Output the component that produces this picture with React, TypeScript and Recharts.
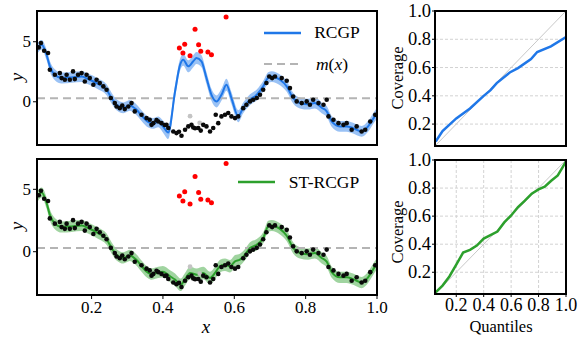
import React from "react"
import { CartesianGrid, ComposedChart, Line, Area, Scatter, ReferenceLine, XAxis, YAxis } from "recharts"

// observed points (black)
const obsX = [0.052, 0.058, 0.067, 0.078, 0.083, 0.097, 0.111, 0.116, 0.125, 0.13, 0.139, 0.148, 0.153, 0.162, 0.172, 0.181, 0.186, 0.195, 0.205, 0.214, 0.223, 0.233, 0.242, 0.254, 0.265, 0.27, 0.279, 0.286, 0.293, 0.303, 0.312, 0.321, 0.34, 0.354, 0.363, 0.368, 0.373, 0.382, 0.387, 0.396, 0.405, 0.41, 0.415, 0.429, 0.438, 0.445, 0.452, 0.462, 0.471, 0.48, 0.485, 0.49, 0.499, 0.506, 0.513, 0.522, 0.532, 0.541, 0.548, 0.555, 0.564, 0.574, 0.583, 0.592, 0.602, 0.611, 0.625, 0.634, 0.644, 0.653, 0.663, 0.672, 0.681, 0.69, 0.698, 0.706, 0.714, 0.733, 0.747, 0.756, 0.765, 0.775, 0.789, 0.803, 0.812, 0.821, 0.836, 0.85, 0.859, 0.864, 0.878, 0.892, 0.906, 0.915, 0.929, 0.943, 0.957, 0.967, 0.981, 0.995]
const obsY = [4.53, 4.89, 4.25, 4.06, 2.67, 2.25, 2.39, 1.97, 1.83, 2.25, 1.83, 2.53, 1.89, 2.25, 2.39, 1.69, 2.25, 1.97, 1.42, 1.83, 1.56, 1.28, 1.0, 0.31, -0.11, -0.39, -0.53, -0.31, -0.61, -0.39, -0.11, -0.8, -1.08, -1.36, -1.5, -1.92, -1.78, -1.53, -1.64, -1.78, -1.94, -1.92, -2.19, -2.47, -2.61, -2.5, -2.83, -2.33, -2.05, -1.92, -2.14, -2.2, -2.19, -2.4, -1.92, -2.05, -2.47, -2.19, -1.08, -1.78, -1.22, -1.08, -0.94, -1.22, -1.36, -1.22, -0.53, -0.25, 0.03, 0.17, 0.31, 0.58, 1.0, 1.56, 2.11, 1.97, 2.11, 1.97, 1.75, 1.14, 0.44, 0.03, -0.11, 0.03, -0.25, 0.17, -0.11, -0.25, 0.17, -1.22, -1.5, -1.78, -1.92, -1.78, -2.33, -2.05, -2.47, -2.33, -1.64, -1.08]

// outliers (red) and masked points (grey)
const outX = [0.446, 0.461, 0.456, 0.476, 0.49, 0.5, 0.506, 0.526, 0.536, 0.577]
const outY = [4.47, 4.8, 4.06, 3.83, 6.03, 4.75, 4.2, 4.14, 3.92, 7.06]
const greyX = [0.476, 0.503]
const greyY = [-1.2, -1.75]

// RCGP posterior mean and half band
const rcgpX = [0.047, 0.06, 0.074, 0.083, 0.097, 0.116, 0.144, 0.172, 0.19, 0.219, 0.242, 0.256, 0.27, 0.289, 0.307, 0.326, 0.34, 0.359, 0.373, 0.387, 0.4, 0.415, 0.434, 0.448, 0.457, 0.471, 0.485, 0.494, 0.508, 0.522, 0.536, 0.55, 0.564, 0.578, 0.592, 0.611, 0.625, 0.644, 0.663, 0.681, 0.695, 0.705, 0.728, 0.747, 0.765, 0.784, 0.807, 0.826, 0.845, 0.859, 0.873, 0.896, 0.915, 0.933, 0.957, 0.975, 0.994, 1.0]
const rcgpMean = [4.4, 4.75, 3.9, 2.95, 2.25, 1.98, 2.03, 2.1, 1.9, 1.47, 1.0, 0.3, -0.25, -0.5, -0.3, -0.67, -1.15, -1.7, -1.8, -1.67, -2.05, -2.55, 0.86, 3.08, 3.5, 2.95, 3.37, 3.64, 3.37, 1.98, 0.58, 0.03, 0.58, 1.42, 0.31, -1.2, -0.5, 0.17, 0.58, 1.28, 2.0, 2.1, 1.83, 1.28, 0.3, -0.1, -0.2, -0.1, -0.5, -0.8, -1.63, -2.05, -2.05, -2.2, -2.47, -2.05, -1.2, -0.95]
const rcgpBand = [0.45, 0.4, 0.45, 0.45, 0.45, 0.45, 0.45, 0.45, 0.45, 0.45, 0.45, 0.45, 0.45, 0.45, 0.45, 0.45, 0.45, 0.45, 0.45, 0.45, 0.5, 0.55, 0.55, 0.5, 0.5, 0.5, 0.5, 0.5, 0.5, 0.5, 0.5, 0.5, 0.5, 0.5, 0.5, 0.5, 0.45, 0.45, 0.45, 0.45, 0.45, 0.45, 0.45, 0.45, 0.45, 0.45, 0.45, 0.45, 0.45, 0.45, 0.45, 0.45, 0.45, 0.45, 0.45, 0.45, 0.45, 0.45]

// ST-RCGP posterior mean and half band
const stX = [0.047, 0.06, 0.074, 0.083, 0.097, 0.116, 0.144, 0.172, 0.19, 0.219, 0.242, 0.256, 0.27, 0.289, 0.307, 0.326, 0.34, 0.359, 0.368, 0.382, 0.4, 0.42, 0.434, 0.45, 0.461, 0.476, 0.494, 0.513, 0.532, 0.546, 0.56, 0.574, 0.588, 0.602, 0.616, 0.63, 0.644, 0.663, 0.681, 0.695, 0.705, 0.728, 0.747, 0.765, 0.784, 0.807, 0.826, 0.845, 0.859, 0.873, 0.896, 0.915, 0.933, 0.957, 0.975, 0.994, 1.0]
const stMean = [4.4, 4.75, 3.9, 2.95, 2.25, 1.98, 2.03, 2.1, 1.9, 1.47, 1.0, 0.3, -0.25, -0.5, -0.3, -0.67, -1.15, -1.7, -1.8, -1.7, -1.6, -1.97, -2.24, -2.65, -2.24, -1.7, -1.84, -1.7, -2.1, -1.7, -1.15, -1.04, -1.17, -0.77, -0.64, -0.24, 0.3, 0.56, 1.1, 2.03, 2.1, 1.83, 1.28, 0.3, -0.1, -0.2, -0.1, -0.5, -0.8, -1.63, -2.05, -2.05, -2.2, -2.47, -2.05, -1.2, -0.95]
const stBand = [0.45, 0.4, 0.45, 0.45, 0.45, 0.45, 0.45, 0.45, 0.45, 0.45, 0.45, 0.45, 0.45, 0.45, 0.45, 0.45, 0.45, 0.45, 0.45, 0.45, 0.45, 0.48, 0.5, 0.5, 0.5, 0.5, 0.5, 0.5, 0.5, 0.5, 0.5, 0.5, 0.5, 0.5, 0.48, 0.45, 0.45, 0.45, 0.45, 0.45, 0.45, 0.45, 0.45, 0.45, 0.45, 0.45, 0.45, 0.45, 0.45, 0.45, 0.45, 0.45, 0.45, 0.45, 0.45, 0.45, 0.45]

const priorMean = 0.3

// coverage curves
const rcgpQ = [0.05, 0.1, 0.2, 0.3, 0.4, 0.45, 0.495, 0.59, 0.65, 0.745, 0.79, 0.89, 1.0]
const rcgpCov = [0.077, 0.15, 0.24, 0.31, 0.4, 0.44, 0.49, 0.565, 0.596, 0.66, 0.71, 0.75, 0.815]
const stQ = [0.05, 0.1, 0.15, 0.2, 0.25, 0.3, 0.35, 0.4, 0.5, 0.55, 0.6, 0.65, 0.7, 0.75, 0.8, 0.845, 0.89, 0.94, 0.976, 1.0]
const stCov = [0.057, 0.105, 0.17, 0.255, 0.34, 0.36, 0.39, 0.44, 0.49, 0.555, 0.605, 0.665, 0.71, 0.76, 0.79, 0.81, 0.85, 0.89, 0.95, 0.99]

const xTicks = [0.2, 0.4, 0.6, 0.8, 1.0]
const covTicks = [0.2, 0.4, 0.6, 0.8, 1.0]

const serif = "'Liberation Serif', 'Times New Roman', Tinos, serif"
const BLUE = "#1f77e8"
const GREEN = "#2ca02c"

const toPts = (xs: number[], ys: number[]) => xs.map((x, i) => ({ x, y: ys[i] }))
const toFit = (xs: number[], m: number[], w: number[]) =>
  xs.map((x, i) => ({ x, y: m[i], band: [m[i] - w[i], m[i] + w[i]] }))

const obs = toPts(obsX, obsY)
const outliers = toPts(outX, outY)
const greys = toPts(greyX, greyY)

const dot = (fill: string, r: number) => (p: any) => <circle cx={p.cx} cy={p.cy} r={r} fill={fill} />

const fmt = (v: number) => (Number.isInteger(v) && v !== 1 ? String(v) : v.toFixed(1))

const SerifTick = (props: any) => {
  const { x, y, payload, textAnchor, orientation, size = 17, drop = 0.72 } = props
  const dy = orientation === "bottom" ? size * drop : size * 0.33
  return (
    <text x={x} y={y} dy={dy} textAnchor={textAnchor} fontFamily={serif} fontSize={size} fill="#000">
      {fmt(payload.value)}
    </text>
  )
}

const Frame = ({ left, top, w, h }: { left: number; top: number; w: number; h: number }) => (
  <div style={{ position: "absolute", left: left - 1, top: top - 1, width: w + 2, height: h + 2, border: "2px solid #000", boxSizing: "border-box", pointerEvents: "none" }} />
)

const Txt = ({ x, y, children, rotate, italic, size = 16.5 }: any) => (
  <div style={{ position: "absolute", left: x, top: y, transform: `translate(-50%, -50%)${rotate ? " rotate(-90deg)" : ""}`, fontFamily: serif, fontSize: size, fontStyle: italic ? "italic" : "normal", whiteSpace: "nowrap", lineHeight: 1 }}>
    {children}
  </div>
)

const FitPanel = ({ top, plotTop, plotH, yDomain, fit, color, showLabels }: any) => {
  const axisH = showLabels ? 26 : 5
  const height = plotTop + plotH + axisH
  return (
    <div style={{ position: "absolute", left: 0, top }}>
      <ComposedChart width={395} height={height} margin={{ top: plotTop, right: 18, bottom: 0, left: 0 }}>
        <XAxis type="number" dataKey="x" domain={[0.047, 1]} allowDataOverflow ticks={xTicks} interval={0} tickSize={4} tickMargin={2}
          axisLine={false} tickLine={{ stroke: "#000" }} height={axisH}
          tick={showLabels ? <SerifTick size={17} /> : false} />
        <YAxis type="number" domain={yDomain} allowDataOverflow ticks={[0, 5]} interval={0} width={37} tickSize={4} tickMargin={2}
          axisLine={false} tickLine={{ stroke: "#000" }} tick={<SerifTick size={17} />} />
        <ReferenceLine y={priorMean} stroke="#b4b4b4" strokeWidth={2} strokeDasharray="8 5" />
        <Area data={fit} dataKey="band" type="monotone" stroke="none" fill={color} fillOpacity={0.45} isAnimationActive={false} />
        <Line data={fit} dataKey="y" type="monotone" stroke={color} strokeWidth={2} dot={false} isAnimationActive={false} />
        <Scatter data={greys} dataKey="y" shape={dot("#c4c4c4", 2.4)} isAnimationActive={false} />
        <Scatter data={obs} dataKey="y" shape={dot("#0a0a0a", 2.3)} isAnimationActive={false} />
        <Scatter data={outliers} dataKey="y" shape={dot("#ff0000", 2.5)} isAnimationActive={false} />
      </ComposedChart>
    </div>
  )
}

const CovPanel = ({ top, plotTop, plotH, q, cov, color, showLabels }: any) => {
  const axisH = showLabels ? 22 : 5
  const height = plotTop + plotH + axisH
  const data = q.map((v: number, i: number) => ({ x: v, y: cov[i] }))
  const diag = [{ x: 0.045, y: 0.045 }, { x: 1, y: 1 }]
  return (
    <div style={{ position: "absolute", left: 390, top }}>
      <ComposedChart width={192} height={height} margin={{ top: plotTop, right: 16, bottom: 0, left: 0 }}>
        <CartesianGrid stroke="#d2d2d2" strokeDasharray="3 2" />
        <XAxis type="number" dataKey="x" domain={[0.045, 1]} allowDataOverflow ticks={covTicks} interval={0} tickSize={3} tickMargin={3}
          axisLine={false} tickLine={{ stroke: "#000" }} height={axisH}
          tick={showLabels ? <SerifTick size={18} drop={0.6} /> : false} />
        <YAxis type="number" domain={[0.045, 1]} allowDataOverflow ticks={covTicks} interval={0} width={45} tickSize={3} tickMargin={1}
          axisLine={false} tickLine={{ stroke: "#000" }} tick={<SerifTick size={18.5} />} />
        <Line data={diag} dataKey="y" type="linear" stroke="#c8c8c8" strokeWidth={1} dot={false} isAnimationActive={false} />
        <Line data={data} dataKey="y" type="linear" stroke={color} strokeWidth={2.5} dot={false} isAnimationActive={false} />
      </ComposedChart>
    </div>
  )
}

const LegendLine = ({ x, y, color, dashed }: any) => (
  <svg style={{ position: "absolute", left: x, top: y - 3 }} width={38} height={6}>
    <line x1={0} y1={3} x2={37} y2={3} stroke={color} strokeWidth={dashed ? 2 : 2.5} strokeDasharray={dashed ? "8 5" : undefined} />
  </svg>
)

export default function App() {
  return (
    <div style={{ position: "absolute", left: 0, top: 0, width: 582, height: 339, background: "#fff", overflow: "hidden", fontFamily: serif }}>
      <FitPanel top={0} plotTop={11} plotH={134} yDomain={[-3.6, 7.56]} fit={toFit(rcgpX, rcgpMean, rcgpBand)} color={BLUE} showLabels={false} />
      <FitPanel top={0} plotTop={159} plotH={136} yDomain={[-3.47, 7.43]} fit={toFit(stX, stMean, stBand)} color={GREEN} showLabels={true} />
      <Frame left={37} top={11} w={340} h={134} />
      <Frame left={37} top={159} w={340} h={136} />

      <CovPanel top={0} plotTop={11} plotH={135} q={rcgpQ} cov={rcgpCov} color={BLUE} showLabels={false} />
      <CovPanel top={0} plotTop={160} plotH={134} q={stQ} cov={stCov} color={GREEN} showLabels={true} />
      <Frame left={435} top={11} w={131} h={135} />
      <Frame left={435} top={160} w={131} h={134} />

      <LegendLine x={264} y={33} color={BLUE} />
      <Txt x={337} y={33} size={17.5}>RCGP</Txt>
      <LegendLine x={264} y={64} color="#b4b4b4" dashed />
      <Txt x={332} y={65} size={17.5}><i>m</i>(<i>x</i>)</Txt>
      <LegendLine x={238} y={182} color={GREEN} />
      <Txt x={324} y={183} size={17.5}>ST-RCGP</Txt>

      <Txt x={16} y={77} rotate italic size={19}>y</Txt>
      <Txt x={16} y={226} rotate italic size={19}>y</Txt>
      <Txt x={206} y={326} italic size={19}>x</Txt>
      <Txt x={398} y={78} rotate>Coverage</Txt>
      <Txt x={398} y={232} rotate>Coverage</Txt>
      <Txt x={501} y={327}>Quantiles</Txt>
    </div>
  )
}
